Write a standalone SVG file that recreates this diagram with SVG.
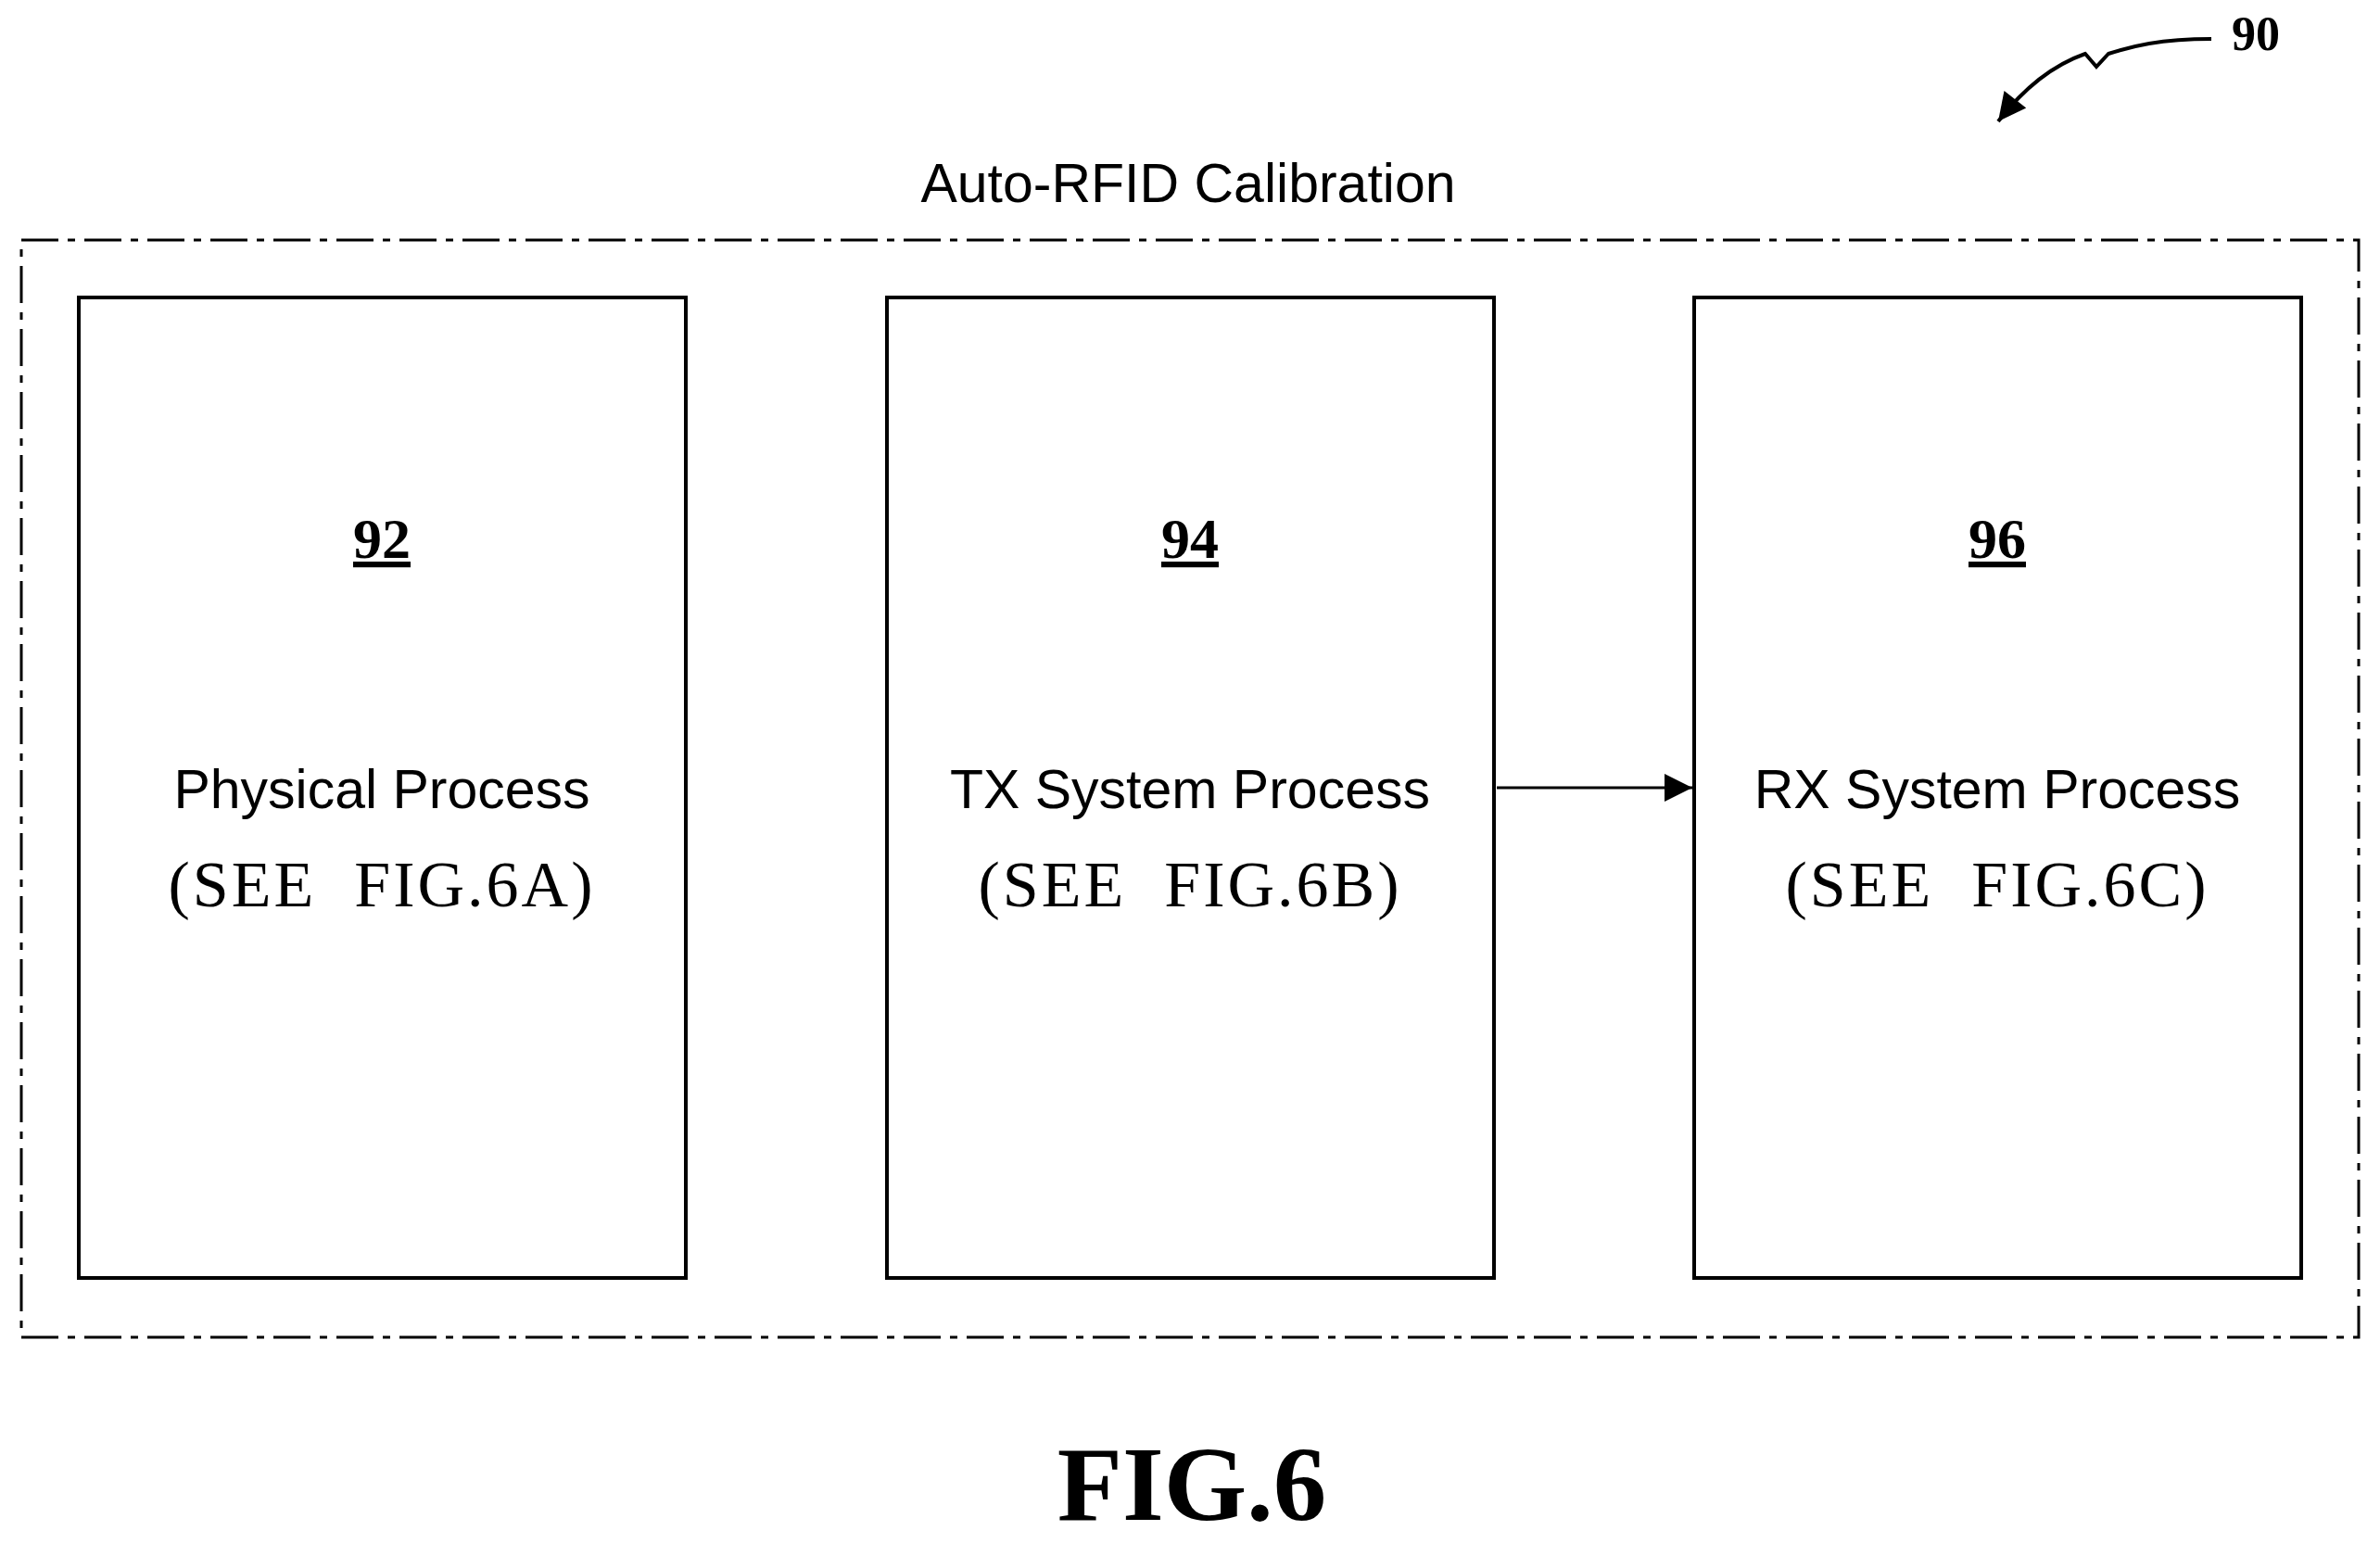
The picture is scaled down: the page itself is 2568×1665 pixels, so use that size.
<svg xmlns="http://www.w3.org/2000/svg" width="2568" height="1665" viewBox="0 0 2568 1665">
<style>
.box{fill:none;stroke:#000;stroke-width:4}
.sans{font-family:"Liberation Sans",Arial,sans-serif;font-size:59px;text-anchor:middle}
.ser{font-family:"Liberation Serif","Times New Roman",serif;text-anchor:middle}
.num{font-size:62px;font-weight:bold;text-decoration:underline}
.see{font-size:70px;letter-spacing:3px;white-space:pre}
</style>
<defs>
<marker id="ah2" viewBox="0 0 10 10" markerWidth="40" markerHeight="30" refX="10" refY="5" orient="auto" markerUnits="userSpaceOnUse"><path d="M0,0 L10,5 L0,10 z" fill="#000"/></marker></defs>
<rect x="0" y="0" width="2568" height="1665" fill="#fff"/>
<text class="sans" x="1282" y="218" font-size="64">Auto-RFID Calibration</text>
<rect x="23" y="259" width="2522" height="1184" fill="none" stroke="#000" stroke-width="3" stroke-dasharray="40,10,8,10"/>
<g id="n92"><rect class="box" x="85" y="321" width="655" height="1058"/>
<text class="ser num" x="412" y="602">92</text>
<text class="sans" x="412" y="872">Physical Process</text>
<text class="ser see" x="412" y="978" xml:space="preserve">(SEE  FIG.6A)</text></g>
<g id="n94"><rect class="box" x="957" y="321" width="655" height="1058"/>
<text class="ser num" x="1284" y="602">94</text>
<text class="sans" x="1284" y="872">TX System Process</text>
<text class="ser see" x="1284" y="978" xml:space="preserve">(SEE  FIG.6B)</text></g>
<g id="n96"><rect class="box" x="1828" y="321" width="655" height="1058"/>
<text class="ser num" x="2155" y="602">96</text>
<text class="sans" x="2155" y="872">RX System Process</text>
<text class="ser see" x="2155" y="978" xml:space="preserve">(SEE  FIG.6C)</text></g>
<g id="connectors">
<line x1="1615" y1="850" x2="1826" y2="850" stroke="#000" stroke-width="3" marker-end="url(#ah2)"/>
<path d="M2386,42 C2330,42 2300,50 2275,58 L2262,72 L2250,58 C2210,72 2180,100 2156,131" fill="none" stroke="#000" stroke-width="4" marker-end="url(#ah2)"/>
</g>
<text class="ser" x="2434" y="54" font-size="52" font-weight="bold">90</text>
<text class="ser" x="1286" y="1640" font-size="115" font-weight="bold">FIG.6</text>
</svg>
